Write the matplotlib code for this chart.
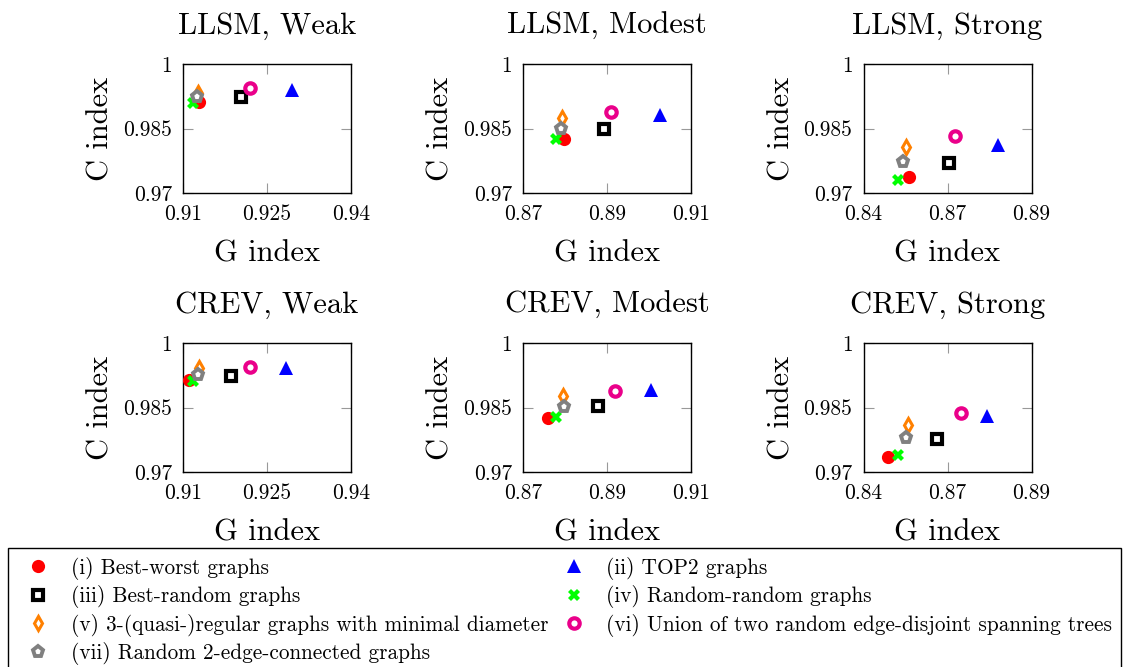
import matplotlib
matplotlib.use("Agg")
import matplotlib.pyplot as plt
from matplotlib.lines import Line2D

plt.rcParams["font.family"] = ["cmr10", "DejaVu Serif"]
plt.rcParams["axes.formatter.use_mathtext"] = True
plt.rcParams["mathtext.fontset"] = "cm"

# graph families, in plotting order
series_labels = [
    "(i) Best-worst graphs",
    "(ii) TOP2 graphs",
    "(iii) Best-random graphs",
    "(iv) Random-random graphs",
    "(v) 3-(quasi-)regular graphs with minimal diameter",
    "(vi) Union of two random edge-disjoint spanning trees",
    "(vii) Random 2-edge-connected graphs",
]

panel_titles = ["LLSM, Weak", "LLSM, Modest", "LLSM, Strong",
                "CREV, Weak", "CREV, Modest", "CREV, Strong"]

# G index / C index per family (i)..(vii)
llsm_weak_g = [0.9129, 0.9295, 0.9203, 0.9117, 0.9126, 0.9219, 0.9125]
llsm_weak_c = [0.9911, 0.9940, 0.9923, 0.9909, 0.9933, 0.9945, 0.9924]
llsm_modest_g = [0.8798, 0.9026, 0.8893, 0.8778, 0.8793, 0.8910, 0.8791]
llsm_modest_c = [0.9826, 0.9881, 0.9848, 0.9825, 0.9875, 0.9888, 0.9850]
llsm_strong_g = [0.8534, 0.8800, 0.8655, 0.8502, 0.8526, 0.8673, 0.8517]
llsm_strong_c = [0.9737, 0.9812, 0.9770, 0.9730, 0.9808, 0.9833, 0.9772]
crev_weak_g = [0.9111, 0.9284, 0.9186, 0.9118, 0.9128, 0.9219, 0.9126]
crev_weak_c = [0.9913, 0.9943, 0.9923, 0.9912, 0.9941, 0.9944, 0.9925]
crev_modest_g = [0.8759, 0.9004, 0.8879, 0.8778, 0.8795, 0.8919, 0.8798]
crev_modest_c = [0.9826, 0.9890, 0.9854, 0.9829, 0.9877, 0.9888, 0.9852]
crev_strong_g = [0.8474, 0.8769, 0.8618, 0.8503, 0.8532, 0.8690, 0.8526]
crev_strong_c = [0.9736, 0.9830, 0.9777, 0.9740, 0.9809, 0.9837, 0.9780]

panel_g = [llsm_weak_g, llsm_modest_g, llsm_strong_g, crev_weak_g, crev_modest_g, crev_strong_g]
panel_c = [llsm_weak_c, llsm_modest_c, llsm_strong_c, crev_weak_c, crev_modest_c, crev_strong_c]

# x axis ticks per column (the middle tick of the strong case is 0.865, printed as 0.87)
x_ticks = [[0.91, 0.925, 0.94], [0.87, 0.89, 0.91], [0.84, 0.865, 0.89]]
x_tick_labels = [["0.91", "0.925", "0.94"], ["0.87", "0.89", "0.91"], ["0.84", "0.87", "0.89"]]
y_ticks = [0.97, 0.985, 1.0]
y_tick_labels = ["0.97", "0.985", "1"]

# marker styles for (i)..(vii)
styles = [
    dict(marker="o", ms=9.5, mfc="#ff0000", mec="#ff0000", mew=0),
    dict(marker="^", ms=10.5, mfc="#0000ff", mec="#0000ff", mew=0),
    dict(marker="s", ms=7.5, mfc="white", mec="black", mew=3),
    dict(marker="X", ms=8.5, mfc="#00ff00", mec="#00ff00", mew=0),
    dict(marker="d", ms=7.5, mfc="white", mec="#ff8000", mew=2.2),
    dict(marker="o", ms=7.5, mfc="white", mec="#ea008a", mew=3),
    dict(marker="p", ms=8, mfc="white", mec="#808080", mew=2.8),
]

W, H = 1123, 667
fig = plt.figure(figsize=(W / 100, H / 100), dpi=100)

col_left = [183, 523, 863.5]
row_top = [64, 343]
ax_w, ax_h = 168, 129

for k, title in enumerate(panel_titles):
    r, c = divmod(k, 3)
    ax = fig.add_axes([col_left[c] / W, 1 - (row_top[r] + ax_h) / H, ax_w / W, ax_h / H])
    for j in range(len(series_labels)):
        ax.plot(panel_g[k][j], panel_c[k][j], linestyle="none", zorder=3 + j, **styles[j])
    ax.set_xlim(x_ticks[c][0], x_ticks[c][-1])
    ax.set_ylim(y_ticks[0], y_ticks[-1])
    ax.set_xticks(x_ticks[c])
    ax.set_xticklabels(x_tick_labels[c])
    ax.set_yticks(y_ticks)
    ax.set_yticklabels(y_tick_labels)
    ax.tick_params(direction="in", length=7, width=0.8, color="#999999",
                   top=True, right=True, labelsize=15.5, pad=8)
    for s in ax.spines.values():
        s.set_linewidth(1.0)
    ax.set_title(title, fontsize=22, pad=22)
    ax.set_xlabel("G index", fontsize=22, labelpad=12)
    ax.set_ylabel("C index", fontsize=22, labelpad=6)

handles = [Line2D([], [], linestyle="none", **st) for st in styles]
order = [0, 2, 4, 6, 1, 3, 5]
leg = fig.legend([handles[i] for i in order], [series_labels[i] for i in order],
                 loc="upper left", bbox_to_anchor=(8 / W, 1 - 548 / H - 0.01, 1113 / W, 0.01),
                 mode="expand", ncol=2, numpoints=1, fontsize=15.3, frameon=True,
                 fancybox=False, edgecolor="black", framealpha=1,
                 handlelength=2.0, handletextpad=0.55, labelspacing=0.26,
                 borderpad=0.4, borderaxespad=0)
leg.get_frame().set_linewidth(1.0)

fig.savefig("out.png", dpi=100)
